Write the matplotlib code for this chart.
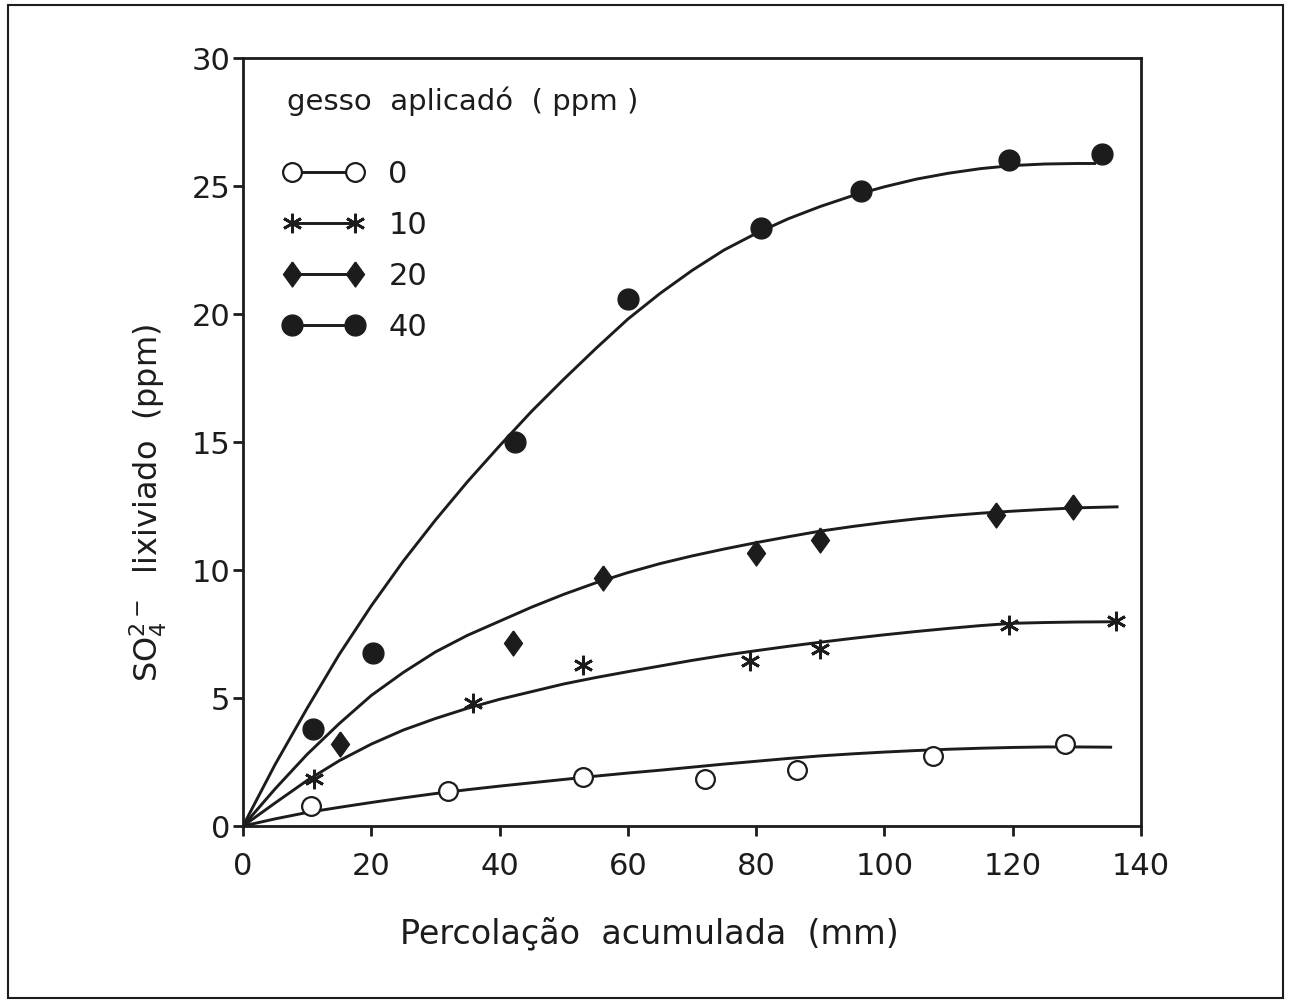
import numpy as np
import matplotlib.pyplot as plt
from matplotlib.lines import Line2D
from matplotlib.patches import Rectangle

# doses de gesso (ppm)
doses = ['0', '10', '20', '40']

# pontos observados: percolacao acumulada (mm) e SO4 lixiviado (ppm)
x_0 = [10.6, 31.9, 53.0, 72.0, 86.3, 107.5, 128.2]
y_0 = [0.80, 1.35, 1.90, 1.84, 2.19, 2.73, 3.22]
x_10 = [11.1, 35.8, 53.0, 79.0, 89.9, 119.5, 136.1]
y_10 = [1.84, 4.80, 6.30, 6.45, 6.90, 7.85, 8.00]
x_20 = [15.1, 42.1, 56.1, 80.0, 89.9, 117.4, 129.4]
y_20 = [3.20, 7.15, 9.70, 10.66, 11.17, 12.15, 12.46]
x_40 = [10.9, 20.2, 42.4, 60.0, 80.7, 96.4, 119.5, 134.0]
y_40 = [3.79, 6.76, 15.00, 20.60, 23.36, 24.80, 26.00, 26.25]

# curvas ajustadas
fit_x = [0, 5, 10, 15, 20, 25, 30, 35, 40, 45, 50, 55, 60, 65,
         70, 75, 80, 85, 90, 95, 100, 105, 110, 115, 120, 125, 130]
fit_0 = [0, 0.28, 0.53, 0.73, 0.92, 1.10, 1.27, 1.42, 1.56, 1.69, 1.82, 1.95, 2.07, 2.18,
         2.30, 2.42, 2.53, 2.64, 2.74, 2.82, 2.89, 2.95, 3.00, 3.04, 3.07, 3.09, 3.09]
fit_10 = [0, 0.90, 1.78, 2.55, 3.20, 3.75, 4.20, 4.60, 4.95, 5.25, 5.55, 5.80, 6.03, 6.25,
          6.47, 6.67, 6.85, 7.02, 7.18, 7.33, 7.47, 7.60, 7.72, 7.83, 7.92, 7.95, 7.97]
fit_20 = [0, 1.45, 2.80, 4.00, 5.10, 6.00, 6.80, 7.45, 8.00, 8.55, 9.05, 9.50, 9.90, 10.25,
          10.55, 10.82, 11.07, 11.30, 11.52, 11.70, 11.86, 12.00, 12.12, 12.22, 12.30, 12.37, 12.43]
fit_40 = [0, 2.40, 4.60, 6.70, 8.60, 10.35, 11.95, 13.45, 14.85, 16.20, 17.45, 18.65, 19.80, 20.80,
          21.70, 22.50, 23.15, 23.72, 24.20, 24.62, 24.97, 25.27, 25.50, 25.68, 25.80, 25.86, 25.88]
fit_end_x = [135.5, 136.0, 136.5, 133.0]
fit_end_y = [3.08, 7.98, 12.47, 25.88]

ink = '#1c1c1c'
diamond = [(0, 1), (0.72, 0), (0, -1), (-0.72, 0), (0, 1)]
estilos = [
    dict(marker='o', ms=13.5, mfc='white', mec=ink, mew=1.6),
    dict(marker=(6, 2, 0), ms=14, mfc=ink, mec=ink, mew=2.0),
    dict(marker=diamond, ms=18, mfc=ink, mec=ink, mew=1.0),
    dict(marker='o', ms=15, mfc=ink, mec=ink, mew=1.0),
]

plt.rcParams['font.family'] = ['DejaVu Sans']
plt.rcParams['mathtext.fontset'] = 'dejavusans'

fig = plt.figure(figsize=(12.91, 10.02), dpi=100)
ax = fig.add_axes([0.1882, 0.1756, 0.6956, 0.7665])

pontos = [(x_0, y_0), (x_10, y_10), (x_20, y_20), (x_40, y_40)]
curvas = [fit_0, fit_10, fit_20, fit_40]
handles = []
for i, dose in enumerate(doses):
    cx = fit_x + [fit_end_x[i]]
    cy = curvas[i] + [fit_end_y[i]]
    ax.plot(cx, cy, color=ink, lw=2.1, zorder=2, solid_capstyle='butt')
    px, py = pontos[i]
    ax.plot(px, py, ls='none', zorder=3, **estilos[i])
    handles.append(Line2D([], [], color=ink, lw=2.1, **estilos[i]))

ax.set_xlim(0, 140)
ax.set_ylim(0, 30)
ax.set_xticks(np.arange(0, 141, 20))
ax.set_yticks(np.arange(0, 31, 5))
ax.tick_params(axis='both', direction='out', color=ink, labelcolor=ink,
               labelsize=22, width=2.0, length=7)
ax.tick_params(axis='x', pad=12)
ax.tick_params(axis='y', pad=2)
for sp in ax.spines.values():
    sp.set_linewidth(2.0)
    sp.set_color(ink)

ax.set_xlabel('Percolação  acumulada  (mm)', fontsize=24, color=ink)
ax.xaxis.set_label_coords(0.453, -0.118)
ax.set_ylabel(r'SO$_4^{2-}$  lixiviado  (ppm)', fontsize=23, color=ink)
ax.yaxis.set_label_coords(-0.082, 0.42)

# titulo da legenda
ax.text(0.049, 0.932, 'gesso  aplicadó  ( ppm )', transform=ax.transAxes,
        fontsize=21, color=ink, ha='left', va='baseline')

leg = ax.legend(handles, doses, numpoints=2, loc='upper left',
                bbox_to_anchor=(0.0133, 0.903), frameon=False,
                fontsize=22, handlelength=2.67, handletextpad=0.8,
                labelspacing=0.72)
for t in leg.get_texts():
    t.set_color(ink)

# moldura externa da figura
fig.patches.append(Rectangle((0.006, 0.004), 0.988, 0.991, transform=fig.transFigure,
                             fill=False, lw=1.5, ec=ink))

plt.savefig('out.png', dpi=100)
